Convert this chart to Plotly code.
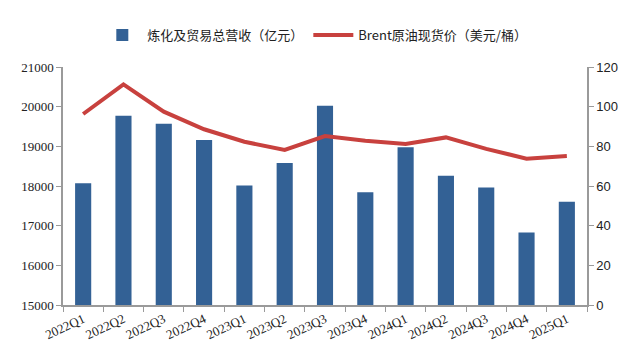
import plotly.graph_objects as go

quarters = ["2022Q1", "2022Q2", "2022Q3", "2022Q4", "2023Q1", "2023Q2", "2023Q3",
            "2023Q4", "2024Q1", "2024Q2", "2024Q3", "2024Q4", "2025Q1"]
revenue = [18070, 19770, 19570, 19160, 18010, 18580, 20020, 17840, 18975, 18260, 17960, 16830, 17600]
brent = [96.3, 111.2, 97.5, 88.6, 82.3, 78.2, 85.2, 82.8, 81.2, 84.5, 78.7, 73.8, 75.1]

fig = go.Figure()
fig.add_trace(go.Bar(
    x=quarters, y=revenue, name="炼化及贸易总营收（亿元）",
    marker=dict(color="#336195", line=dict(width=0)), width=0.4, yaxis="y"))
fig.add_trace(go.Scatter(
    x=quarters, y=brent, name="Brent原油现货价（美元/桶）", mode="lines",
    line=dict(color="#C8413E", width=4), yaxis="y2"))

axis_line = dict(showline=True, linecolor="#9a9a9a", linewidth=1.5, ticks="outside",
                 ticklen=5, tickcolor="#9a9a9a", showgrid=False, zeroline=False,
                 automargin=False)

fig.update_layout(
    width=630, height=360,
    margin=dict(l=55, r=51, t=59, b=63),
    paper_bgcolor="white", plot_bgcolor="white",
    showlegend=True,
    legend=dict(orientation="h", xref="container", x=0.487, xanchor="center",
                yref="container", y=0.925, yanchor="middle",
                font=dict(family="Noto Sans CJK SC", size=13, color="#222"),
                itemwidth=40, traceorder="normal"),
    xaxis=dict(**axis_line, tickangle=-25, tickson="boundaries",
               tickfont=dict(family="Liberation Serif", size=13, color="#222")),
    yaxis=dict(**axis_line, range=[15000, 21000], dtick=1000, tickformat="d",
               tickfont=dict(family="Liberation Serif", size=13, color="#222")),
    yaxis2=dict(**axis_line, range=[0, 120], dtick=20, overlaying="y", side="right",
                tickfont=dict(family="Liberation Sans", size=13, color="#222")),
    bargap=0.6,
)

fig.write_html("out.html")
